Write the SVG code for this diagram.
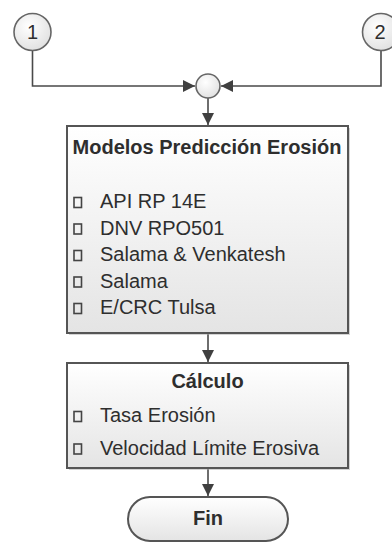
<svg xmlns="http://www.w3.org/2000/svg" width="392" height="543" viewBox="0 0 392 543">
<style>
.box{stroke:#555;stroke-width:2;fill:url(#g)}
.shadow{fill:#aaa;opacity:0.5}
.con{fill:none;stroke:#4a4a4a;stroke-width:1.6}
.t{font-family:"Liberation Sans",Arial,sans-serif;fill:#2e2e2e;font-size:20px}
.b{font-weight:bold}
.cb{fill:none;stroke:#444;stroke-width:1.6}
</style>
<defs>
<linearGradient id="g" x1="0" y1="0" x2="0" y2="1">
<stop offset="0" stop-color="#ffffff"/>
<stop offset="1" stop-color="#e4e4e4"/>
</linearGradient>
<radialGradient id="rg" cx="0.4" cy="0.35" r="0.7">
<stop offset="0" stop-color="#ffffff"/>
<stop offset="1" stop-color="#e0e0e0"/>
</radialGradient>
<marker id="ah" markerUnits="userSpaceOnUse" markerWidth="12" markerHeight="12" refX="12" refY="6" orient="auto">
<path d="M0,0 L12,6 L0,12 Z" fill="#404040"/>
</marker>
</defs>

<g id="connectors">
<path class="con" d="M32.5,50.5 V86 H195" marker-end="url(#ah)"/>
<path class="con" d="M381,50.5 V86 H221" marker-end="url(#ah)"/>
<path class="con" d="M208,98 V125" marker-end="url(#ah)"/>
<path class="con" d="M208,334 V362" marker-end="url(#ah)"/>
<path class="con" d="M208,469 V496" marker-end="url(#ah)"/>
</g>

<g id="c1">
<circle cx="32.5" cy="32" r="18.5" fill="url(#rg)" stroke="#666" stroke-width="1.6"/>
<text class="t" x="32.5" y="38.5" text-anchor="middle" font-size="18">1</text>
</g>
<g id="c2">
<circle cx="381" cy="32" r="18.5" fill="url(#rg)" stroke="#666" stroke-width="1.6"/>
<text class="t" x="380" y="38.5" text-anchor="middle" font-size="18">2</text>
</g>
<g id="merge">
<circle cx="208" cy="86" r="12" fill="url(#rg)" stroke="#666" stroke-width="1.6"/>
</g>

<g id="modelos">
<rect class="shadow" x="69" y="128" width="281" height="207"/>
<rect class="box" x="67" y="126" width="281" height="207"/>
<text class="t b" x="207" y="154" text-anchor="middle">Modelos Predicción Erosión</text>
<rect class="cb" x="74" y="197.5" width="7.5" height="10"/>
<text class="t" x="100" y="208">API RP 14E</text>
<rect class="cb" x="74" y="224" width="7.5" height="10"/>
<text class="t" x="100" y="234.5">DNV RPO501</text>
<rect class="cb" x="74" y="250.5" width="7.5" height="10"/>
<text class="t" x="100" y="261">Salama &amp; Venkatesh</text>
<rect class="cb" x="74" y="277" width="7.5" height="10"/>
<text class="t" x="100" y="287.5">Salama</text>
<rect class="cb" x="74" y="303.5" width="7.5" height="10"/>
<text class="t" x="100" y="314">E/CRC Tulsa</text>
</g>

<g id="calculo">
<rect class="shadow" x="69" y="365" width="281" height="105"/>
<rect class="box" x="67" y="363" width="281" height="105"/>
<text class="t b" x="207.5" y="388" text-anchor="middle">Cálculo</text>
<rect class="cb" x="74" y="411.5" width="7.5" height="10"/>
<text class="t" x="100" y="422">Tasa Erosión</text>
<rect class="cb" x="74" y="444" width="7.5" height="10"/>
<text class="t" x="100" y="455">Velocidad Límite Erosiva</text>
</g>

<g id="fin">
<rect class="box" x="128" y="497" width="160" height="44" rx="22" ry="22"/>
<text class="t b" x="208" y="525" text-anchor="middle">Fin</text>
</g>
</svg>
